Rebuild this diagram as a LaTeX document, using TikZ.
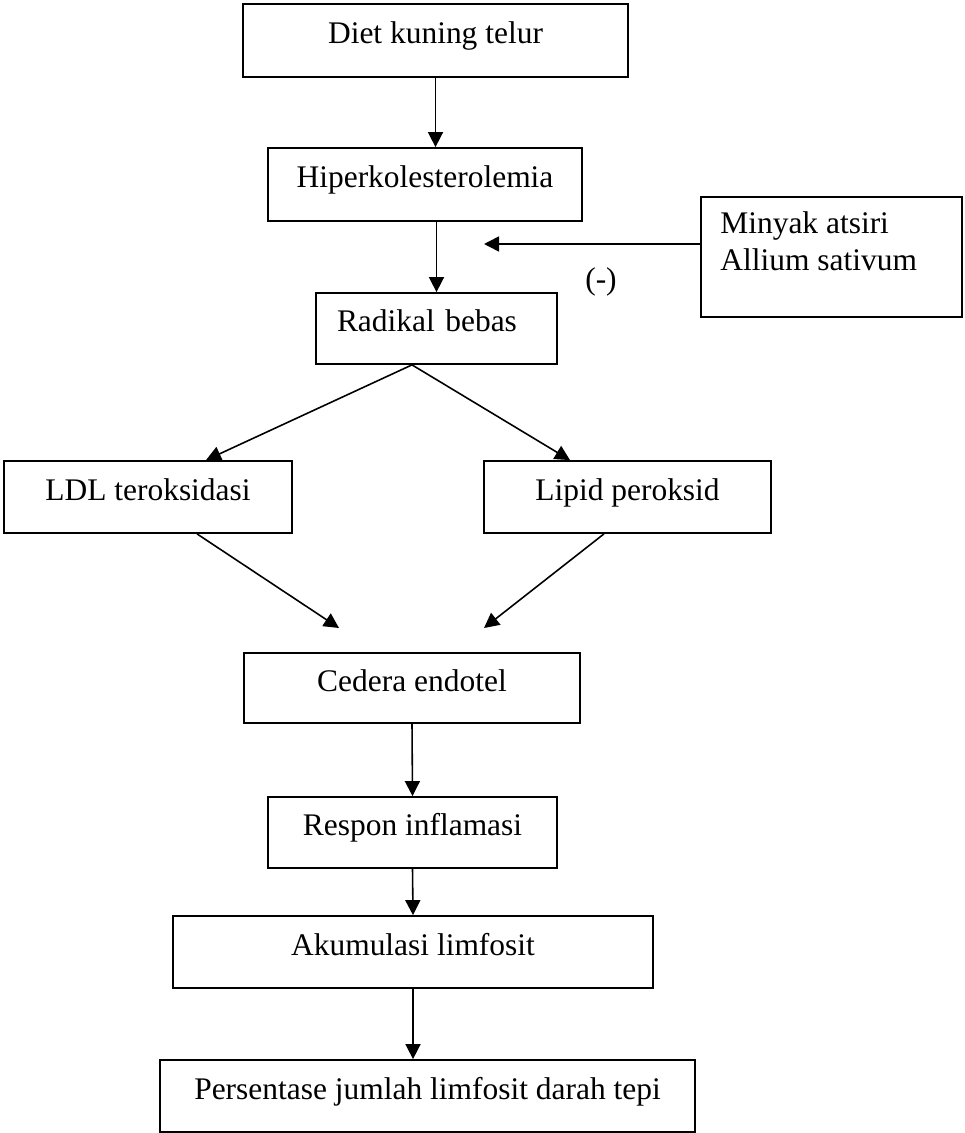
\documentclass[tikz,border=0pt]{standalone}
\usepackage{fontspec}
\setmainfont{Liberation Serif}
\usetikzlibrary{arrows.meta,positioning,calc}

\begin{document}
\begin{tikzpicture}[
  box/.style={rectangle, draw=black, line width=1pt, inner sep=0pt,
              text height=0.65em, text depth=0.3em},
  flow/.style={-{Triangle[length=3mm,width=3mm]}, line width=0.9pt},
  lbl/.style={inner sep=0pt},
  font=\fontsize{17.9}{21}\selectfont
]
  \useasboundingbox (0,0) rectangle (19.28,-22.66);
  % main chain
  \node[box, minimum width=7.70cm, minimum height=1.46cm] (diet) at (8.71,-0.81) {Diet kuning telur};
  \node[box, minimum width=6.28cm, minimum height=1.46cm] (hiper) at (8.50,-3.69) {Hiperkolesterolemia};
  \node[box, minimum width=4.82cm, minimum height=1.42cm, text width=3.98cm,
        inner xsep=0.42cm, align=left] (radikal) at (8.73,-6.57) {Radikal bebas};
  \node[box, minimum width=5.76cm, minimum height=1.44cm] (ldl) at (2.96,-9.94) {LDL teroksidasi};
  \node[box, minimum width=5.74cm, minimum height=1.44cm] (lipid) at (12.55,-9.94) {Lipid peroksid};
  \node[box, minimum width=6.72cm, minimum height=1.40cm] (cedera) at (8.24,-13.76) {Cedera endotel};
  \node[box, minimum width=5.78cm, minimum height=1.42cm] (respon) at (8.25,-16.65) {Respon inflamasi};
  \node[box, minimum width=9.60cm, minimum height=1.44cm] (akumulasi) at (8.26,-19.04) {Akumulasi limfosit};
  \node[box, minimum width=10.70cm, minimum height=1.44cm] (persen) at (8.55,-21.92) {Persentase jumlah limfosit darah tepi};
  % inhibitor
  \node[box, minimum width=5.22cm, minimum height=2.40cm] (minyak) at (16.63,-5.14) {};
  \node[lbl, anchor=north west, align=left] (minyaktxt) at (14.40,-4.23) {Minyak atsiri\\Allium sativum};
  \node[lbl] (minus) at (12.02,-5.64) {(-)};
  \coordinate (inhib) at (9.68,-4.88);
  \coordinate (inL) at (6.78,-12.56);
  \coordinate (inR) at (9.68,-12.56);
  % arrows
  \draw[flow] (diet.south) -- (diet.south |- hiper.north);
  \draw[flow] (radikal.north |- hiper.south) -- (radikal.north);
  \draw[flow] (inhib -| minyak.west) -- (inhib);
  \draw[flow] ([xshift=-0.49cm]radikal.south) -- ([xshift=1.16cm]ldl.north);
  \draw[flow] ([xshift=-0.49cm]radikal.south) -- ([xshift=-1.15cm]lipid.north);
  \draw[flow] ([xshift=0.98cm]ldl.south) -- (inL);
  \draw[flow] ([xshift=-0.47cm]lipid.south) -- (inR);
  \draw[flow] (cedera.south) -- (respon.north);
  \draw[flow] (respon.south) -- (akumulasi.north);
  \draw[flow] (akumulasi.south) -- (akumulasi.south |- persen.north);
\end{tikzpicture}
\end{document}
